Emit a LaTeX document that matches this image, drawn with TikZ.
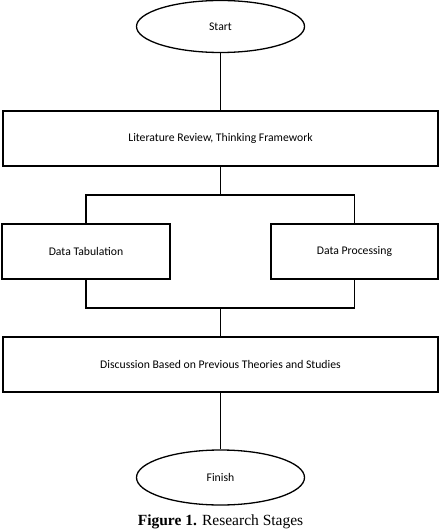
\documentclass[tikz,border=0pt]{standalone}
\usepackage{fontspec}
\setmainfont{Carlito}
\newfontfamily\capfont{Liberation Serif}
\usetikzlibrary{shapes.geometric}
\begin{document}
\begin{tikzpicture}[x=1pt,y=-1pt,
  box/.style={draw,line width=1.3pt,minimum height=55pt,inner sep=0pt,font=\fontsize{11.7}{13}\selectfont},
  oval/.style={draw,ellipse,line width=1.3pt,minimum width=168pt,minimum height=52pt,inner sep=0pt,font=\fontsize{11.7}{13}\selectfont},
  conn/.style={line width=1.3pt}]
\useasboundingbox (0,0) rectangle (441,529);
\node[oval] (start) at (220.5,26.5) {Start};
\node[box,minimum width=435pt] (lit) at (220.5,138.5) {Literature Review, Thinking Framework};
\node[box,minimum width=168pt] (tab) at (86,251.5) {Data Tabulation};
\node[box,minimum width=167pt] (proc) at (354.5,251.5) {Data Processing};
\node[box,minimum width=435pt] (disc) at (220.5,364.5) {Discussion Based on Previous Theories and Studies};
\node[oval,minimum height=55pt] (fin) at (220.5,477.5) {Finish};
\coordinate (split) at (220.5,195);
\coordinate (join) at (220.5,308);
\draw[conn] (start) -- (lit);
\draw[conn] (lit.south) -- (split);
\draw[conn] (tab.north) |- (split) -| (proc.north);
\draw[conn] (tab.south) |- (join) -| (proc.south);
\draw[conn] (join) -- (disc.north);
\draw[conn] (disc) -- (fin);
\node[font=\capfont\fontsize{15.5}{17}\selectfont,anchor=base,inner sep=0pt] (cap) at (220.5,525.5) {\textbf{Figure 1.} Research Stages};
\end{tikzpicture}
\end{document}
